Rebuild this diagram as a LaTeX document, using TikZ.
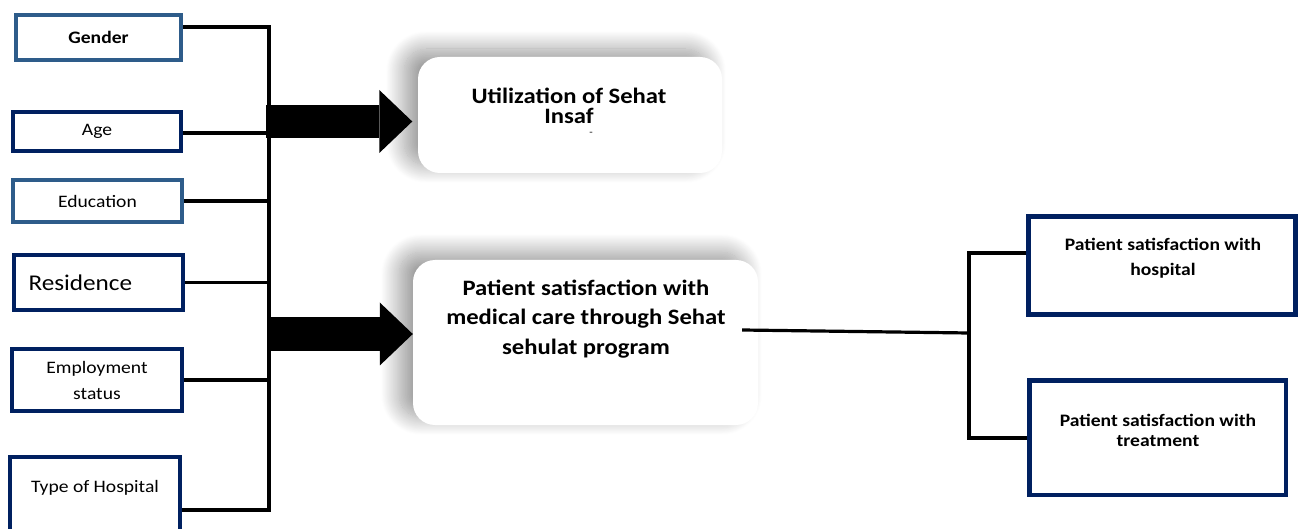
\documentclass[tikz,border=0pt]{standalone}
\usepackage{fontspec}
\setmainfont{Carlito}[FakeStretch=1.12]
\usetikzlibrary{arrows.meta,calc,shadows.blur}
\definecolor{steelb}{RGB}{46,92,138}
\definecolor{navyb}{RGB}{0,32,96}
\newcommand\fsz[2]{\fontsize{#1}{#2}\selectfont}
\tikzset{
  lbox/.style={draw=#1, line width=4pt, fill=white, inner sep=0pt, align=center},
  rbox/.style={draw=navyb, line width=4.5pt, fill=white, inner sep=0pt},
  cbox/.style={fill=white, rounded corners=22pt, inner sep=0pt,
    blur shadow={shadow xshift=-14pt, shadow yshift=8pt, shadow blur radius=18pt,
      shadow blur steps=30, shadow opacity=40}},
  conn/.style={line width=3.2pt, black},
  txt/.style={inner sep=0pt, align=center, text=black},
  fatarrow/.style={line width=#1, black, -{Triangle[length=33pt, width=63pt, line width=0pt]}},
}
\begin{document}
\begin{tikzpicture}[x=1pt, y=-1pt]
\useasboundingbox (0,0) rectangle (1299,529);

% left boxes
\node[lbox=steelb, minimum width=165pt, minimum height=45pt, font=\fsz{17.5}{21}\bfseries] (gender) at (98.5,37.5) {Gender};
\node[lbox=navyb, minimum width=168pt, minimum height=39pt, font=\fsz{17.5}{21}] (age) at (97,131.5) {Age};
\node[lbox=steelb, minimum width=169pt, minimum height=42pt, font=\fsz{17.5}{21}] (edu) at (97.5,201) {Education};
\node[lbox=navyb, minimum width=169pt, minimum height=55pt, text width=140pt, align=left, font=\fsz{22.5}{26}] (res) at (98.5,282.5) {Residence};
\node[lbox=navyb, minimum width=170pt, minimum height=62pt, font=\fsz{17.5}{26}] (emp) at (97,380) {Employment\\status};
\node[lbox=navyb, minimum width=170pt, minimum height=88pt] (toh) at (95,501) {};
\node[txt, font=\fsz{17.5}{21}] (tohtext) at (95,488) {Type of Hospital};

% left bus
\coordinate (busTop) at (269,25.5);
\coordinate (busBot) at (269,511.5);
\draw[conn] (busTop) -- (busBot);
\draw[conn] (gender.east |- 0,27) -- (busTop |- 0,27);
\draw[conn] (age.east |- 0,133) -- (busTop |- 0,133);
\draw[conn] (edu.east) -- (edu.east -| busTop);
\draw[conn] (res.east) -- (res.east -| busTop);
\draw[conn] (emp.east) -- (emp.east -| busTop);
\draw[conn] (toh.east |- 0,510) -- (busTop |- 0,510);

% centre boxes
\node[cbox, minimum width=304pt, minimum height=116pt] (util) at (570,115) {};
\node[txt, font=\fsz{22}{20}\bfseries] (utiltext) at (569,106) {Utilization of Sehat\\Insaf};
\node[txt, font=\fsz{10}{10}] (dash) at (591,134) {-};
\node[cbox, minimum width=345pt, minimum height=165pt] (mid) at (585.5,342.5) {};
\node[txt, font=\fsz{22}{29.5}\bfseries] (midtext) at (586,319) {Patient satisfaction with\\medical care through Sehat\\sehulat program};

% fat arrows
\coordinate (a1) at ($(util.west)+(-5.5,6.5)$);
\coordinate (a2) at ($(mid.west)+(0,-8.5)$);
\draw[fatarrow=33pt] ($(busTop |- a1)+(-3,0)$) -- (a1);
\draw[fatarrow=34pt] ($(busTop |- a2)+(2,0)$) -- (a2);

% right boxes
\node[rbox, minimum width=267pt, minimum height=98pt] (hosp) at (1162,265.5) {};
\node[txt, font=\fsz{17.5}{25}\bfseries] (hosptext) at (1163,258) {Patient satisfaction with\\hospital};
\node[rbox, minimum width=256.5pt, minimum height=114.5pt] (treat) at (1157.5,437.5) {};
\node[txt, font=\fsz{17.5}{20}\bfseries] (treattext) at (1158,430) {Patient satisfaction with\\treatment};

% right connectors
\coordinate (rbusTop) at (969,253);
\coordinate (rbusMid) at (969,333);
\coordinate (rbusBot) at (969,438);
\draw[conn] ($(mid.east)+(-16,-12.5)$) -- (rbusMid);
\draw[conn] (hosp.west |- rbusTop) -- (rbusTop) -- (rbusBot) -- (treat.west |- rbusBot);
\end{tikzpicture}
\end{document}
